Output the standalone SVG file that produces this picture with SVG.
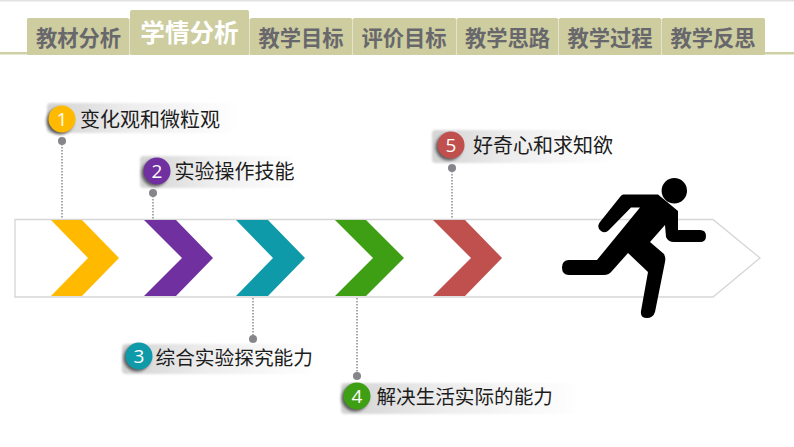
<svg xmlns="http://www.w3.org/2000/svg" width="794" height="447" viewBox="0 0 794 447">
<style>
.tab{fill:#cdcda0}
.tt{font-family:"Noto Sans CJK SC","Liberation Sans",sans-serif;font-weight:700;font-size:21.300px;fill:#68686c;text-anchor:middle}
.lb{font-family:"Noto Sans CJK SC","Liberation Sans",sans-serif;font-size:20px;fill:#1c1c1c}
.num{font-family:"Open Sans","Liberation Sans",sans-serif;font-size:19px;fill:#fff;text-anchor:middle}
.lead{stroke:#8c8c90;stroke-width:1.5;stroke-dasharray:1.5 1.5;fill:none}
.dot{fill:#85858a}
.bar{fill:url(#bg)}
.sh{fill:#333;opacity:.75;filter:url(#blur)}
</style>
<defs>
<linearGradient id="bg" x1="0" x2="1" y1="0" y2="0"><stop offset="0" stop-color="#d4d4d4"/><stop offset=".45" stop-color="#eeeeee"/><stop offset="1" stop-color="#ffffff"/></linearGradient>
<filter id="blur" x="-40%" y="-40%" width="180%" height="180%"><feGaussianBlur stdDeviation="1.6"/></filter>
<filter id="soft" x="-5%" y="-20%" width="110%" height="140%"><feGaussianBlur stdDeviation="1"/></filter>
</defs>
<rect width="794" height="447" fill="#fff"/>
<rect x="0" y="0" width="794" height="1.5" fill="#e2e2e2"/>
<g id="tabbar">
<rect x="0" y="52" width="794" height="2.5" fill="#cfcfa6"/>
<rect x="27" y="19" width="738" height="36" fill="#e4e4cf"/>
<g id="tab-1"><rect class="tab" x="27" y="18" width="102" height="37" rx="1.5"/><text class="tt" x="78.500" y="46">教材分析</text></g>
<g id="tab-2"><rect class="tab" x="130" y="10" width="119" height="45" rx="2"/><text class="tt" x="189.500" y="42" style="font-size:24.600px;fill:#fff">学情分析</text></g>
<g id="tab-3"><rect class="tab" x="250" y="18" width="102" height="37" rx="1.5"/><text class="tt" x="301" y="46">教学目标</text></g>
<g id="tab-4"><rect class="tab" x="353" y="18" width="103" height="37" rx="1.500"/><text class="tt" x="404" y="46">评价目标</text></g>
<g id="tab-5"><rect class="tab" x="457" y="18" width="101" height="37" rx="1.500"/><text class="tt" x="507.500" y="46">教学思路</text></g>
<g id="tab-6"><rect class="tab" x="559" y="18" width="102" height="37" rx="1.500"/><text class="tt" x="610" y="46">教学过程</text></g>
<g id="tab-7"><rect class="tab" x="662" y="18" width="103" height="37" rx="1.500"/><text class="tt" x="713" y="46">教学反思</text></g>
</g>
<g id="timeline">
<path d="M15 219.500H713L760 258L713 297H15Z" fill="#fff" stroke="#d6d6d6" stroke-width="1.300"/>
<path d="M51 220H82L119 258L82 296H51L88 258Z" fill="#ffba00"/>
<path d="M144 220H176L213 258L176 296H144L182 258Z" fill="#7030a0"/>
<path d="M236 220H268L305 258L268 296H236L273 258Z" fill="#0f9aaa"/>
<path d="M335 220H366L404 258L366 296H335L373 258Z" fill="#3f9f14"/>
<path d="M433 220H465L502 258L465 296H433L471 258Z" fill="#c0504d"/>
</g>
<g id="connectors">
<path class="lead" d="M62 141V219M153 193V219M253 298V339M357 298V376M452 168V219"/>
<circle class="dot" cx="62" cy="141" r="4"/>
<circle class="dot" cx="153" cy="193" r="4"/>
<circle class="dot" cx="253" cy="339" r="4"/>
<circle class="dot" cx="357" cy="376" r="4"/>
<circle class="dot" cx="452" cy="168" r="4"/>
</g>
<g id="node-1">
<rect class="bar" x="47" y="103" width="193" height="30" rx="4" filter="url(#soft)"/>
<circle class="sh" cx="60" cy="121" r="13.500"/>
<circle cx="62" cy="119" r="13.500" fill="#ffba00"/>
<text class="num" x="62" y="126">1</text>
<text class="lb" x="80" y="127">变化观和微粒观</text>
</g>
<g id="node-2">
<rect class="bar" x="140" y="156" width="160" height="32" rx="4" filter="url(#soft)"/>
<circle class="sh" cx="155" cy="173" r="13.500"/>
<circle cx="157" cy="171" r="13.500" fill="#7030a0"/>
<text class="num" x="157" y="178">2</text>
<text class="lb" x="174.500" y="179">实验操作技能</text>
</g>
<g id="node-3">
<rect class="bar" x="122" y="344" width="195" height="30" rx="4" filter="url(#soft)"/>
<circle class="sh" cx="137" cy="358" r="13.500"/>
<circle cx="139" cy="356" r="13.500" fill="#0f9aaa"/>
<text class="num" x="139" y="363">3</text>
<text class="lb" x="155.500" y="365" style="font-size:19.700px">综合实验探究能力</text>
</g>
<g id="node-4">
<rect class="bar" x="341" y="383" width="242" height="31" rx="4" filter="url(#soft)"/>
<circle class="sh" cx="355" cy="398" r="13.500"/>
<circle cx="357" cy="396" r="13.500" fill="#3f9f14"/>
<text class="num" x="357" y="403">4</text>
<text class="lb" x="376.500" y="404" style="font-size:19.600px">解决生活实际的能力</text>
</g>
<g id="node-5">
<rect class="bar" x="432" y="130" width="183" height="33" rx="4" filter="url(#soft)"/>
<circle class="sh" cx="449" cy="147" r="13.500"/>
<circle cx="451" cy="145" r="13.500" fill="#c0504d"/>
<text class="num" x="451" y="152">5</text>
<text class="lb" x="473" y="153">好奇心和求知欲</text>
</g>
<g id="runner">
<circle cx="674.300" cy="190.700" r="12.700" fill="#000"/>
<path d="M623 194.500H658L678 211V230H700Q706 230 706 236Q706 242 700 242H674Q668 242 666 237L665 225L650 242L664 254Q666 258 665 262L655 312Q653 318 647 318Q640 318 641 311L648 272L628 253L612 271Q609 275 604 275H569Q562 275 562 267.500Q562 260 569 260H597L640 207.500H631L609 230Q605 234 601 231Q596 227 600 222L620 197Q621 195 623 194.500Z" fill="#000"/>
</g>
</svg>
